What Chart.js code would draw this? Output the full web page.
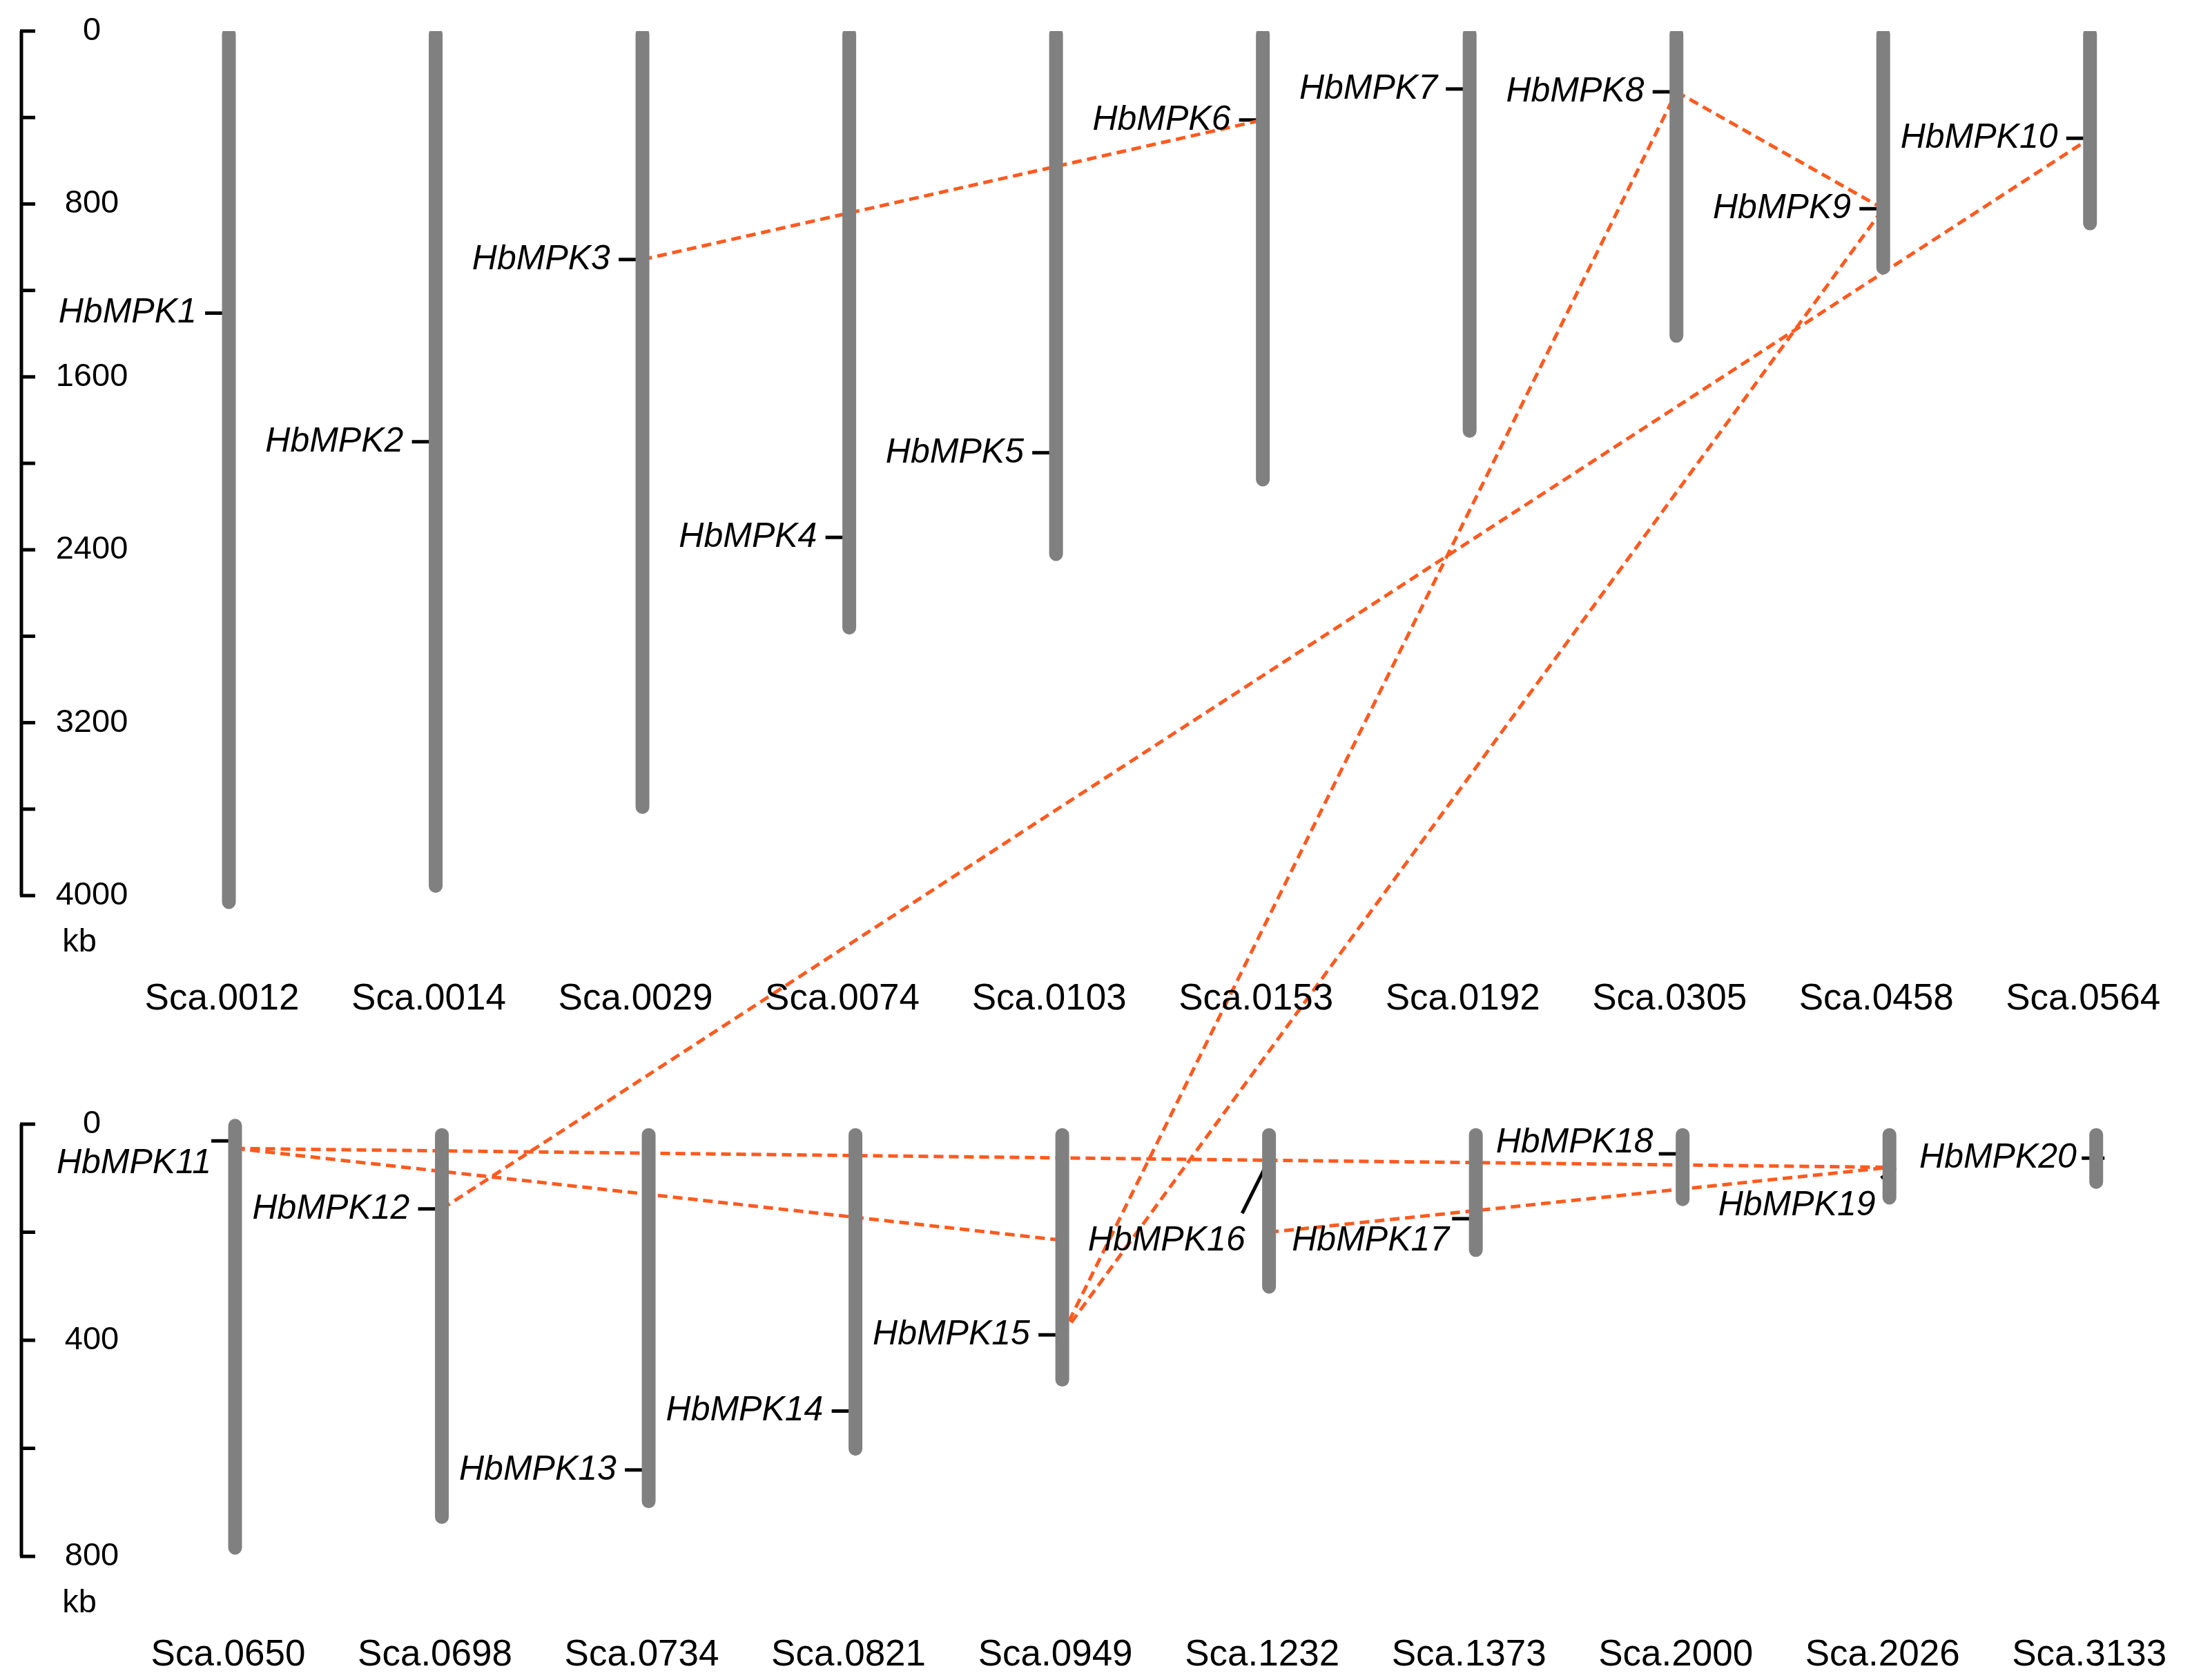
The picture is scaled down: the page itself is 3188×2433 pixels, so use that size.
<!DOCTYPE html>
<html><head><meta charset="utf-8">
<script src="https://cdn.jsdelivr.net/npm/chart.js@4.4.1/dist/chart.umd.min.js"></script>
<style>html,body{margin:0;background:#fff}#wrap{width:3188px;height:2433px}</style>
</head><body><div id="wrap"><canvas id="c"></canvas></div>
<script>
// scaffolds and their lengths (kb)
const topScaffolds = ['Sca.0012','Sca.0014','Sca.0029','Sca.0074','Sca.0103','Sca.0153','Sca.0192','Sca.0305','Sca.0458','Sca.0564'];
const topLengths = [4030, 3955, 3590, 2760, 2420, 2075, 1850, 1410, 1095, 890];
const bottomScaffolds = ['Sca.0650','Sca.0698','Sca.0734','Sca.0821','Sca.0949','Sca.1232','Sca.1373','Sca.2000','Sca.2026','Sca.3133'];
const bottomLengths = [784, 727, 698, 601, 473, 301, 233, 139, 136, 107];
const topTicks = [0, 400, 800, 1200, 1600, 2000, 2400, 2800, 3200, 3600, 4000];
const topTickLabels = ['0', '800', '1600', '2400', '3200', '4000'];
const bottomTicks = [0, 200, 400, 600, 800];
const bottomTickLabels = ['0', '400', '800'];

// genes: name, panel (0 top / 1 bottom), scaffold index, position kb
const geneNames = ['HbMPK1','HbMPK2','HbMPK3','HbMPK4','HbMPK5','HbMPK6','HbMPK7','HbMPK8','HbMPK9','HbMPK10',
  'HbMPK11','HbMPK12','HbMPK13','HbMPK14','HbMPK15','HbMPK16','HbMPK17','HbMPK18','HbMPK19','HbMPK20'];
const genePanel = [0,0,0,0,0,0,0,0,0,0, 1,1,1,1,1,1,1,1,1,1];
const geneScaffold = [0,1,2,3,4,5,6,7,8,9, 0,1,2,3,4,5,6,7,8,9];
const genePos = [1305,1900,1057,2343,1951,411,268,281,822,496, 31,157,640,531,390,73,175,55,81,63];

// segmental duplication links: [panel, scaffold, kb] pairs
const links = [
  [[0,2,1057],[0,5,411]],
  [[0,7,281],[0,8,822]],
  [[1,1,157],[0,9,496]],
  [[1,4,390],[0,7,281]],
  [[1,4,390],[0,8,822]],
  [[1,0,45],[1,4,215]],
  [[1,0,45],[1,8,80]],
  [[1,5,200],[1,8,80]]
];

// conversion of bottom-panel kb into the shared y scale
const BOTTOM_OFFSET = 5057.5, BOTTOM_FACTOR = 2.5;
const yv = (panel, kb) => panel === 0 ? kb : BOTTOM_OFFSET + kb * BOTTOM_FACTOR;
const xv = (panel, s) => panel === 0 ? s : s + 0.03;

const GRAY = '#808080', ORANGE = '#ff5a1f';
const datasets = [];
topLengths.forEach((len, i) => datasets.push({data: [{x: xv(0,i), y: 15}, {x: xv(0,i), y: len}], borderColor: GRAY, borderWidth: 20, borderCapStyle: 'round', pointRadius: 0}));
bottomLengths.forEach((len, i) => datasets.push({data: [{x: xv(1,i), y: yv(1, i === 0 ? 3 : 20)}, {x: xv(1,i), y: yv(1,len)}], borderColor: GRAY, borderWidth: 20, borderCapStyle: 'round', pointRadius: 0}));
links.forEach(l => datasets.push({data: l.map(p => ({x: xv(p[0],p[1]), y: yv(p[0],p[2])})), borderColor: ORANGE, borderWidth: 5, borderDash: [14, 8], pointRadius: 0}));
geneNames.forEach((g, i) => {
  const p = genePanel[i], s = geneScaffold[i], y = yv(p, genePos[i]), x = xv(p, s);
  let pts = [{x: x - 0.115, y: y}, {x: x - 0.01, y: y}];
  if (g === 'HbMPK16') pts = [{x: x - 0.13, y: yv(1,165)}, {x: x - 0.01, y: y}];
  if (g === 'HbMPK19') pts = [{x: x - 0.04, y: yv(1,100)}, {x: x + 0.03, y: y}];
  if (g === 'HbMPK20') pts = [{x: x - 0.07, y: y}, {x: x + 0.04, y: y}];
  datasets.push({data: pts, borderColor: '#000', borderWidth: 5, pointRadius: 0});
});

// label offsets (display px) from gene tick start
const labelOffsets = {
  HbMPK11: [0, 16], HbMPK16: [0, 55], HbMPK17: [-2, 16], HbMPK18: [-4, -8], HbMPK19: [7, 27], HbMPK20: [3, 0]
};

const overlay = {
  id: 'overlay',
  afterDatasetsDraw(chart) {
    const c = chart.ctx, xs = chart.scales.x, ys = chart.scales.y;
    c.save();
    c.fillStyle = '#000'; c.strokeStyle = '#000'; c.lineWidth = 5;
    // axes
    const ax = 31;
    const drawAxis = (panel, ticks, labels) => {
      const y0 = ys.getPixelForValue(yv(panel, ticks[0])), y1 = ys.getPixelForValue(yv(panel, ticks[ticks.length - 1]));
      c.beginPath(); c.moveTo(ax, y0); c.lineTo(ax, y1); c.stroke();
      ticks.forEach(t => { const y = ys.getPixelForValue(yv(panel, t)); c.beginPath(); c.moveTo(ax - 2, y); c.lineTo(ax + 20, y); c.stroke(); });
      c.font = '47px "Liberation Sans", Arial'; c.textAlign = 'center'; c.textBaseline = 'middle';
      labels.forEach(l => c.fillText(l, 133, ys.getPixelForValue(yv(panel, +l))));
      c.fillText('kb', 115, y1 + 68);
    };
    drawAxis(0, topTicks, topTickLabels);
    drawAxis(1, bottomTicks, bottomTickLabels);
    // scaffold names
    c.font = '53px "Liberation Sans", Arial'; c.textAlign = 'center'; c.textBaseline = 'middle';
    topScaffolds.forEach((s, i) => c.fillText(s, xs.getPixelForValue(xv(0,i)) - 10, 1447));
    bottomScaffolds.forEach((s, i) => c.fillText(s, xs.getPixelForValue(xv(1,i)) - 10, 2397));
    // gene labels
    c.font = 'italic 50px "Liberation Sans", Arial'; c.textAlign = 'right';
    geneNames.forEach((g, i) => {
      const p = genePanel[i];
      const x = xs.getPixelForValue(xv(p, geneScaffold[i]) - 0.115);
      const y = ys.getPixelForValue(yv(p, genePos[i]));
      const o = labelOffsets[g] || [-6, 0];
      c.fillText(g, x + o[0] * 2.04, y + o[1] * 2.04);
    });
    c.restore();
  }
};

new Chart(document.getElementById('c'), {
  type: 'line',
  data: {datasets},
  options: {
    responsive: true, maintainAspectRatio: false, animation: false, devicePixelRatio: 1,
    layout: {padding: {left: 32, right: 5, top: 45, bottom: 179}},
    plugins: {legend: {display: false}, tooltip: {enabled: false}},
    scales: {
      x: {type: 'linear', min: -1, max: 9.52, display: false},
      y: {type: 'linear', min: 0, max: 7057.5, reverse: true, display: false}
    }
  },
  plugins: [overlay]
});
</script></body></html>
